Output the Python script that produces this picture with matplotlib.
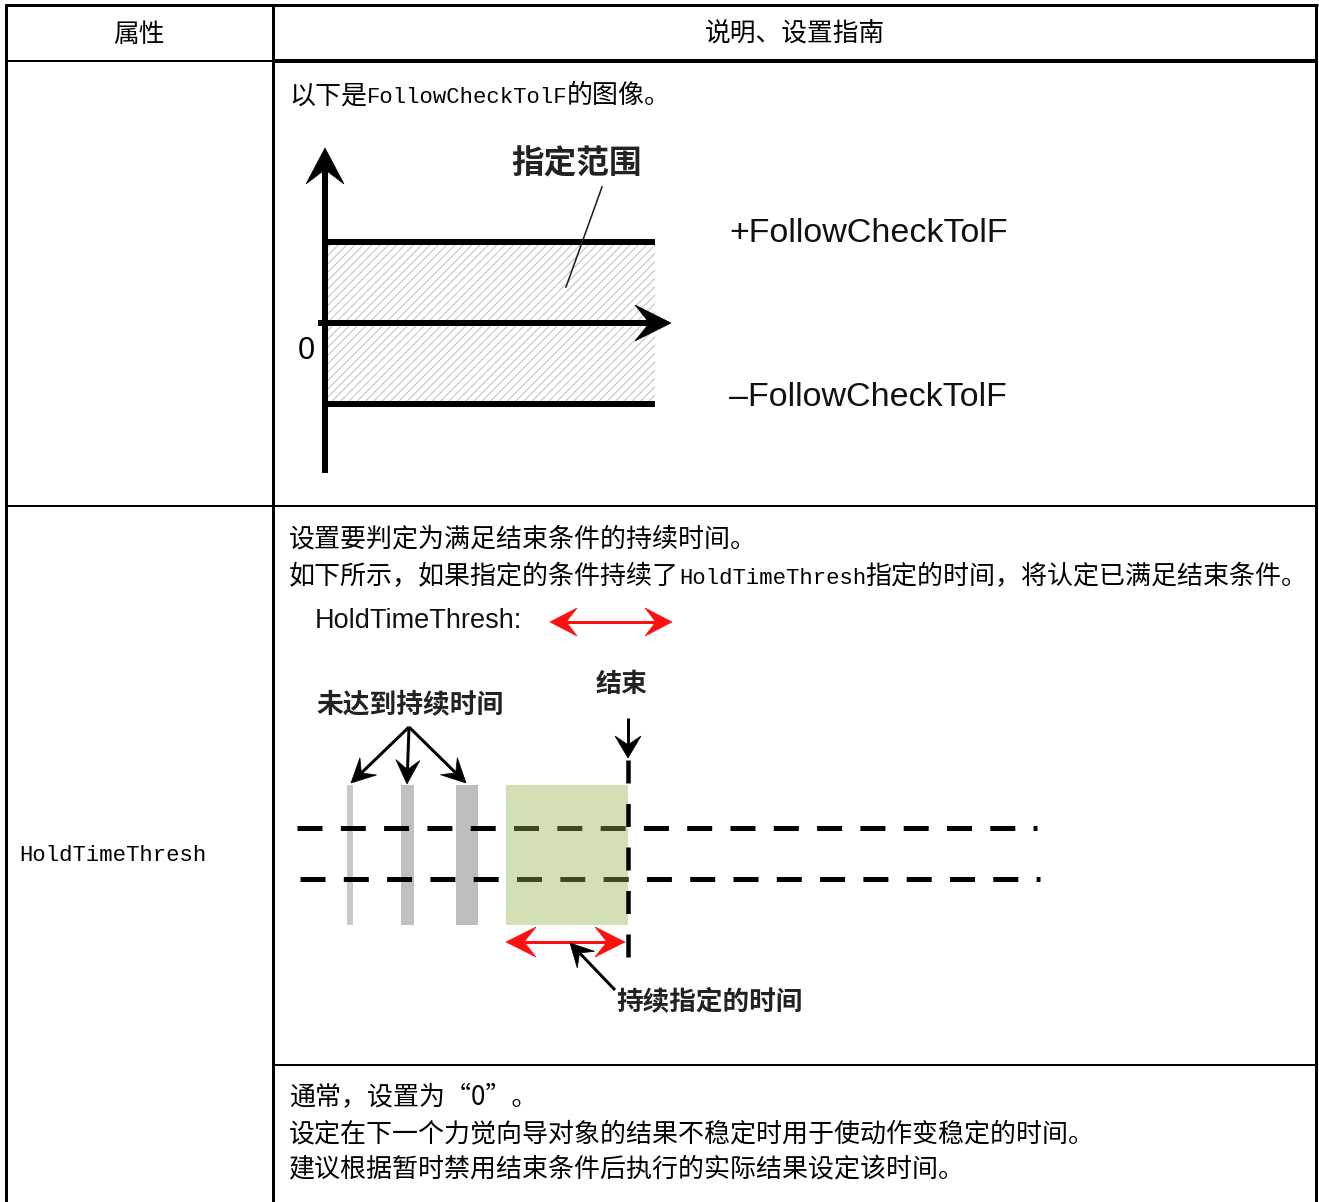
import matplotlib
matplotlib.use('Agg')
import matplotlib.pyplot as plt
from matplotlib.patches import Rectangle, Polygon
import numpy as np

W, H = 1319, 1202
CJK = ['Noto Sans CJK SC', 'DejaVu Sans']
MONO = 'Liberation Mono'
SANS = 'Liberation Sans'

# table texts
header = ['属性', '说明、设置指南']
row1_lines = [[('以下是', 0), ('FollowCheckTolF', 1), ('的图像。', 0)]]
row2_name = 'HoldTimeThresh'
row2_lines = [[('设置要判定为满足结束条件的持续时间。', 0)],
              [('如下所示，如果指定的条件持续了', 0), ('HoldTimeThresh', 1),
               ('指定的时间，将认定已满足结束条件。', 0)]]
row3_lines = ['通常，设置为“0”。',
              '设定在下一个力觉向导对象的结果不稳定时用于使动作变稳定的时间。',
              '建议根据暂时禁用结束条件后执行的实际结果设定该时间。']

# diagram 1 labels
range_label = '指定范围'
zero_label = '0'
tol_labels = ['+FollowCheckTolF', '\u2013FollowCheckTolF']

# diagram 2 labels
hold_label = 'HoldTimeThresh:'
end_label = '结束'
short_label = '未达到持续时间'
held_label = '持续指定的时间'
bar_widths = [6, 13, 22]          # grey pulses (too short)
bar_colors = ['#c9c9c9', '#c0c0c0', '#bdbdbd']

EM = 26.0                 # px per CJK char
CJK_PT = EM * 0.72
MONO_PT = 16
MONO_ADV = 0.6 * MONO_PT / 0.72


def P(px):
    return px * 0.72


fig = plt.figure(figsize=(W / 100, H / 100), dpi=100)
ax = fig.add_axes([0, 0, 1, 1])
ax.set_xlim(0, W)
ax.set_ylim(H, 0)
ax.axis('off')


def hline(x0, x1, y, w, c='black', **kw):
    ax.plot([x0, x1], [y, y], color=c, lw=P(w), solid_capstyle='butt', **kw)


def vline(x, y0, y1, w, c='black', **kw):
    ax.plot([x, x], [y0, y1], color=c, lw=P(w), solid_capstyle='butt', **kw)


def put_line(x, y, parts):
    for s, mono in parts:
        if mono:
            ax.text(x, y, s, family=MONO, fontsize=MONO_PT, va='baseline')
            x += len(s) * MONO_ADV
        else:
            ax.text(x, y, s, family=CJK, fontsize=CJK_PT, va='baseline')
            x += len(s) * EM


def head(tip, d, L, hw, color, ind=0.4):
    d = np.asarray(d, float)
    d = d / np.hypot(*d)
    n = np.array([-d[1], d[0]])
    t = np.asarray(tip, float)
    pts = [t, t - L * d + hw * n, t - L * (1 - ind) * d, t - L * d - hw * n]
    ax.add_patch(Polygon(pts, closed=True, fc=color, ec=color, lw=0.5, zorder=6))
    return t - L * (1 - ind) * d


def arrow(tail, tip, color, w, L, hw):
    d = np.asarray(tip, float) - np.asarray(tail, float)
    back = head(tip, d, L, hw, color)
    ax.plot([tail[0], back[0]], [tail[1], back[1]], color=color, lw=P(w),
            solid_capstyle='butt', zorder=5)


def double_arrow(x0, x1, y, color, w, L, hw):
    b1 = head((x1, y), (1, 0), L, hw, color)
    b0 = head((x0, y), (-1, 0), L, hw, color)
    ax.plot([b0[0], b1[0]], [y, y], color=color, lw=P(w), solid_capstyle='butt', zorder=5)


# ---------------- table frame ----------------
vline(6, 4, H, 3)
vline(1316, 4, H, 3)
hline(4.5, 1317.5, 5, 3)
vline(273, 5, H, 3)
hline(6, 273, 61, 2)
hline(273, 1316, 61, 4)
hline(6, 1316, 506, 2)
hline(273, 1316, 1065, 2)

ax.text(139, 35, header[0], family=CJK, fontsize=18.5, ha='center', va='center')
ax.text(795, 35, header[1], family=CJK, fontsize=18.5, ha='center', va='center')

# text lines
for i, parts in enumerate(row1_lines):
    put_line(289, 103 + i * 38, parts)
for i, parts in enumerate(row2_lines):
    put_line(289, 546 + i * 38, parts)
for i, s in enumerate(row3_lines):
    ax.text(289, 1105 + i * 36, s, family=CJK, fontsize=CJK_PT, va='baseline')
ax.text(19, 861, row2_name, family=MONO, fontsize=MONO_PT, va='baseline')

# ---------------- diagram 1 ----------------
plt.rcParams['hatch.linewidth'] = 0.7
band = Rectangle((328, 245), 327, 157, fc='white', ec='#bdbdbd', lw=0,
                 hatch='////', zorder=1)
ax.add_patch(band)
hline(325, 655, 242, 6)
hline(325, 655, 404, 6)
# axes with arrows
arrow((325, 473), (325, 148), 'black', 6, 36, 19)
arrow((318, 323), (671, 323), 'black', 6, 36, 18)
ax.text(577, 164, range_label, family=CJK, fontsize=23.5, weight='bold',
        ha='center', va='center', color='#222222')
ax.plot([602, 566], [187, 287], color='#222222', lw=P(1.6))
ax.text(306, 351, zero_label, family=SANS, fontsize=22, ha='center', va='center')
ax.text(729, 234, tol_labels[0], family=SANS, fontsize=24.5, va='center', color='#111111')
ax.text(729, 398, tol_labels[1], family=SANS, fontsize=24.5, va='center', color='#111111')

# ---------------- diagram 2 ----------------
ax.text(315, 621, hold_label, family=SANS, fontsize=19.5, va='center', color='#111111')
double_arrow(550, 672, 622, '#ff1010', 3, 27, 14)

ax.text(622, 684, end_label, family=CJK, fontsize=18.7, weight='bold',
        ha='center', va='center', color='#222222')
ax.text(316, 705, short_label, family=CJK, fontsize=19.3, weight='bold',
        va='center', color='#222222')
for tip in [(351, 783), (407, 784), (466, 783)]:
    arrow((409, 727), tip, 'black', 3, 24, 12)
arrow((628, 718), (628, 758), 'black', 3, 22, 13)

# grey pulses
bar_x = [347, 401, 456]
for x, bw, c in zip(bar_x, bar_widths, bar_colors):
    ax.add_patch(Rectangle((x, 785), bw, 140, fc=c, ec='none', zorder=1))

plt.rcParams['lines.scale_dashes'] = False
dash = (0, (P(25), P(18.3)))
ax.plot([297, 1037], [828, 828], color='black', lw=P(5), ls=dash,
        dash_capstyle='butt', zorder=2)
ax.plot([300, 1040], [879, 879], color='black', lw=P(5), ls=dash,
        dash_capstyle='butt', zorder=2)
green = Rectangle((506, 785), 122, 140, fc='#d3e0b6', ec='none', zorder=3)
ax.add_patch(green)
for y, x0 in [(828, 297), (879, 300)]:
    l, = ax.plot([x0, 1034], [y, y], color='#3c4a1f', lw=P(5), ls=dash,
                 dash_capstyle='butt', zorder=4)
    l.set_clip_path(green)
ax.plot([628, 628], [760, 958], color='black', lw=P(4.5),
        ls=(0, (P(23), P(20.5))), dash_capstyle='butt', zorder=5)

double_arrow(506, 625, 942, '#ff1010', 3, 30, 15)
arrow((615, 990), (570, 943), 'black', 3, 23, 12)
ax.text(616, 1002, held_label, family=CJK, fontsize=19.2, weight='bold',
        va='center', color='#222222')

fig.savefig('out.png', dpi=100)
